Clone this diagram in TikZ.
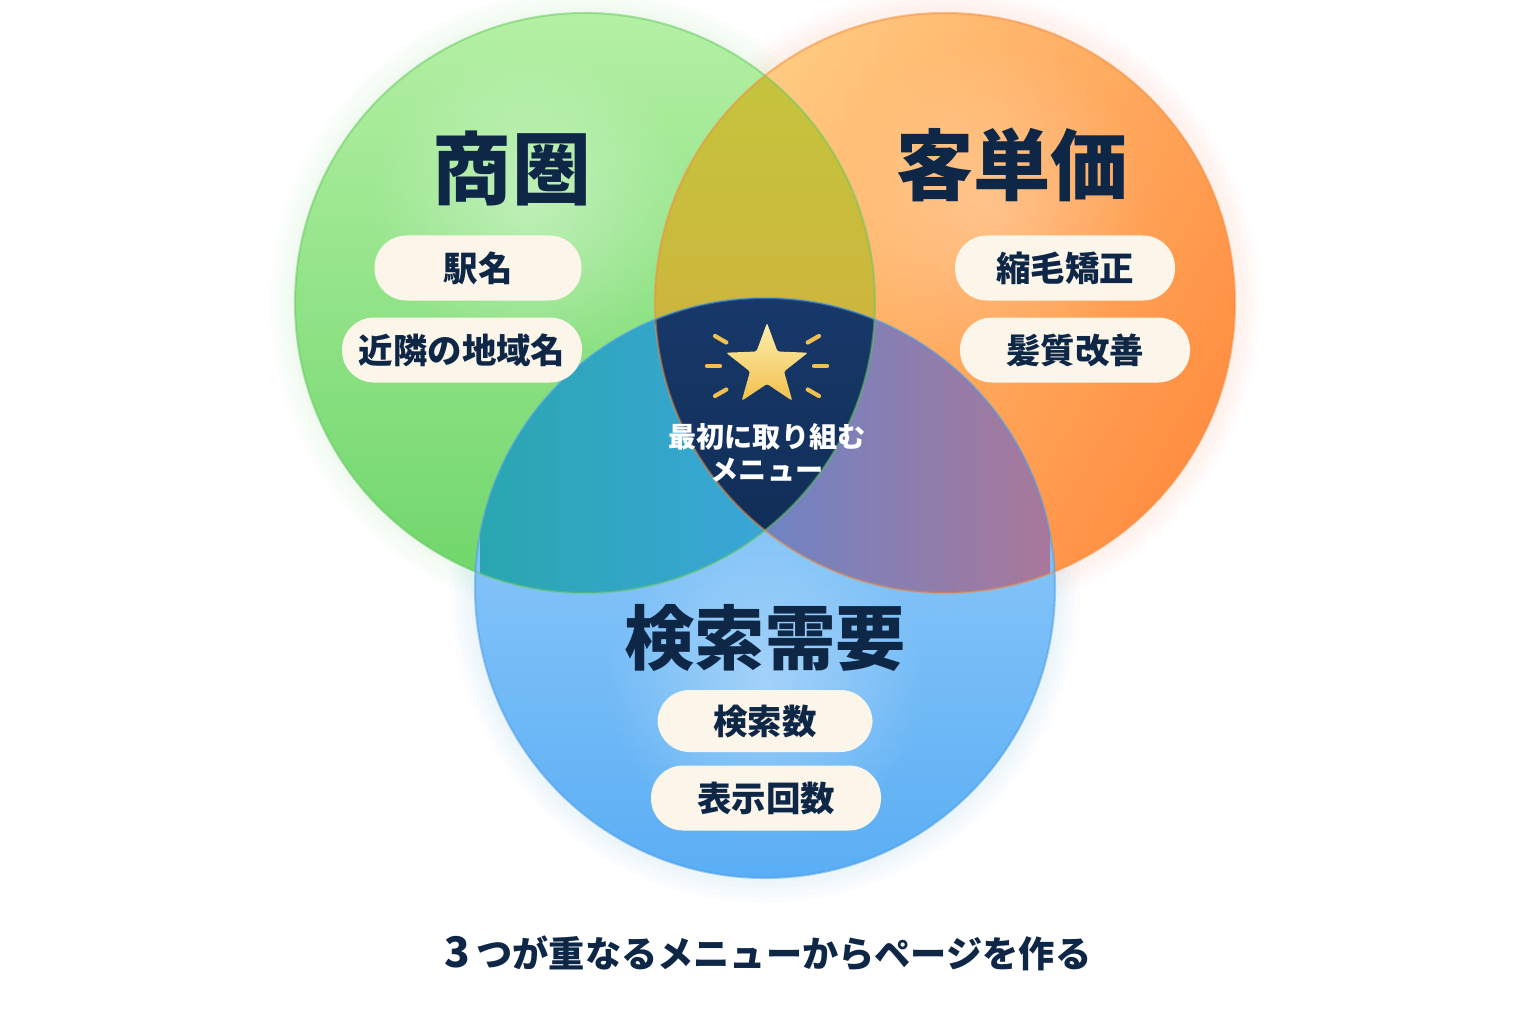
\documentclass[tikz,border=0pt]{standalone}
\usepackage{fontspec}
\setmainfont{Noto Sans CJK JP}
\usetikzlibrary{shapes.geometric,fadings}
\definecolor{navy}{HTML}{0F2747}
\definecolor{cream}{HTML}{FBF6E9}
\definecolor{greenA}{HTML}{B4F0A4}
\definecolor{greenB}{HTML}{6ED66A}
\definecolor{greenR}{HTML}{66C860}
\definecolor{orangeA}{HTML}{FFCD84}
\definecolor{orangeB}{HTML}{FF8F42}
\definecolor{orangeR}{HTML}{F28A3C}
\definecolor{blueA}{HTML}{A2D4FB}
\definecolor{blueB}{HTML}{5AAEF4}
\definecolor{blueR}{HTML}{4A9CEA}
\definecolor{goA}{HTML}{C5C43E}
\definecolor{goB}{HTML}{D4A83A}
\definecolor{gbA}{HTML}{2AA6B0}
\definecolor{gbB}{HTML}{3AA6DA}
\definecolor{obA}{HTML}{6C84C6}
\definecolor{obB}{HTML}{A8789A}
\definecolor{coreA}{HTML}{17396A}
\definecolor{coreB}{HTML}{102C55}
\definecolor{gold}{HTML}{F2C04E}
\tikzfading[name=softspot, inner color=transparent!0, outer color=transparent!100]

\begin{document}
\begin{tikzpicture}[
    title/.style={text=navy, inner sep=0pt, font=\fontsize{22.5}{26}\selectfont\bfseries},
    pill/.style={fill=cream, rounded corners=0.32cm, minimum height=0.65cm,
      inner sep=0pt, text=navy, font=\fontsize{9.8}{12}\selectfont\bfseries},
    corelabel/.style={text=white, inner sep=0pt, font=\fontsize{8}{10}\selectfont\bfseries}]
  \useasboundingbox (0,0) rectangle (15.36,10.24);
  \fill[white] (0,0) rectangle (15.36,10.24);

  % circle centres
  \coordinate (green) at (5.85,7.21);
  \coordinate (orange) at (9.45,7.21);
  \coordinate (blue) at (7.65,4.36);

  % soft glow under the circles
  \foreach \s in {1,...,5} {
    \fill[greenB, opacity=0.02] (green) circle (2.9+0.05*\s);
    \fill[orangeB, opacity=0.02] (orange) circle (2.9+0.05*\s);
    \fill[blueB, opacity=0.025] (blue) circle (2.9+0.05*\s);
  }

  % the three circles
  \shade[top color=greenA, bottom color=greenB] (green) circle (2.9);
  \shade[left color=orangeA, right color=orangeB, shading angle=60] (orange) circle (2.9);
  \shade[top color=blueA, bottom color=blueB] (blue) circle (2.9);

  % light patches behind the titles
  \fill[white, opacity=0.35, path fading=softspot] (5.3,8.2) circle (1.6);
  \fill[white, opacity=0.25, path fading=softspot] (9.9,8.2) circle (1.6);
  \fill[white, opacity=0.35, path fading=softspot] (7.65,3.4) circle (1.6);

  % pairwise overlaps
  \begin{scope}
    \clip (green) circle (2.9);
    \clip (orange) circle (2.9);
    \shade[top color=goA, bottom color=goB] (6.5,4.6) rectangle (8.8,9.5);
  \end{scope}
  \begin{scope}
    \clip (green) circle (2.9);
    \clip (blue) circle (2.9);
    \shade[left color=gbA, right color=gbB] (4.8,4.3) rectangle (7.8,7.3);
  \end{scope}
  \begin{scope}
    \clip (orange) circle (2.9);
    \clip (blue) circle (2.9);
    \shade[left color=obA, right color=obB] (7.5,4.3) rectangle (10.5,7.3);
  \end{scope}

  % centre: all three
  \begin{scope}
    \clip (green) circle (2.9);
    \clip (orange) circle (2.9);
    \clip (blue) circle (2.9);
    \shade[top color=coreA, bottom color=coreB] (6.5,4.6) rectangle (8.8,7.3);
  \end{scope}

  % rims
  \draw[greenR, line width=0.6pt, opacity=0.5] (green) circle (2.9);
  \draw[orangeR, line width=0.6pt, opacity=0.5] (orange) circle (2.9);
  \draw[blueR, line width=0.6pt, opacity=0.5] (blue) circle (2.9);

  % titles
  \node[title] (shoken) at (5.12,8.56) {商圏};
  \node[title, font=\fontsize{22}{26}\selectfont\bfseries] (tanka) at (10.12,8.59) {客単価};
  \node[title, font=\fontsize{20}{24}\selectfont\bfseries] (juyo) at (7.65,3.86) {検索需要};

  % pills
  \node[pill, minimum width=2.07cm] (ekimei) at (4.78,7.56) {駅名};
  \node[pill, minimum width=2.40cm] (chiiki) at (4.62,6.74) {近隣の地域名};
  \node[pill, minimum width=2.20cm] (shukumo) at (10.65,7.56) {縮毛矯正};
  \node[pill, minimum width=2.30cm] (kaizen) at (10.75,6.74) {髪質改善};
  \node[pill, minimum width=2.15cm, minimum height=0.62cm] (kensu) at (7.65,3.03) {検索数};
  \node[pill, minimum width=2.30cm] (hyoji) at (7.66,2.26) {表示回数};

  % star with rays
  \node[star, star points=5, star point ratio=2.4, minimum size=0.86cm, inner sep=0pt,
    top color=gold!60!yellow!40!white, bottom color=gold, rounded corners=0.6pt] (star) at (7.67,6.58) {};
  \foreach \a in {0,30,150,180,210,330}
    \draw[gold, line width=1.2pt, line cap=round] (star.center) ++(\a:0.47) -- ++(\a:0.13);

  % centre label
  \node[corelabel] (first) at (7.67,5.87) {最初に取り組む};
  \node[corelabel] (menu) at (7.67,5.54) {メニュー};

  % caption
  \node[text=navy, font=\fontsize{10.3}{13}\selectfont\bfseries] (caption) at (7.68,0.71)
    {{\fontsize{12}{13}\selectfont 3}\,つが重なるメニューからページを作る};
\end{tikzpicture}
\end{document}
